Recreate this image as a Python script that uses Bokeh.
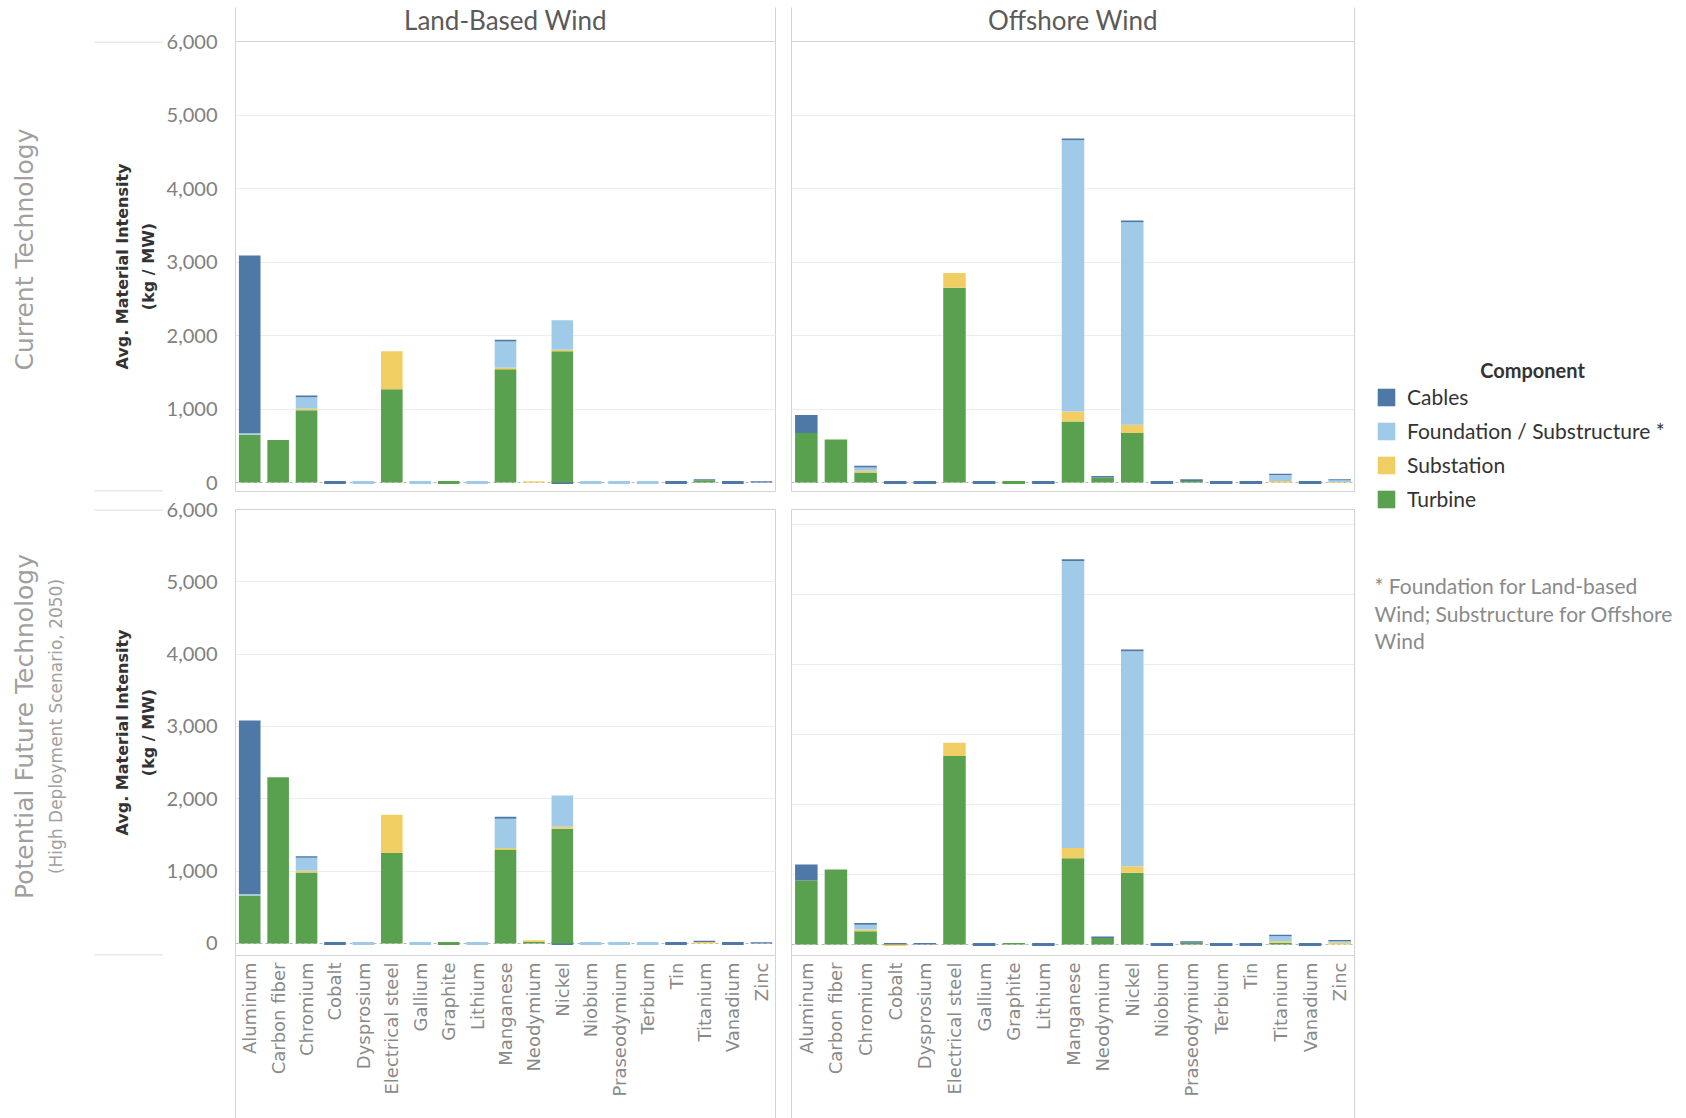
import math
from bokeh.plotting import figure
from bokeh.layouts import row, column
from bokeh.models import (Range1d, FixedTicker, LinearAxis, NumeralTickFormatter, Span,
                          ColumnDataSource, Legend, LegendItem)
from bokeh.core.properties import value
from bokeh.embed import file_html
from bokeh.resources import INLINE

# ---------------- data ----------------
categories = ["Aluminum", "Carbon fiber", "Chromium", "Cobalt", "Dysprosium", "Electrical steel",
              "Gallium", "Graphite", "Lithium", "Manganese", "Neodymium", "Nickel", "Niobium",
              "Praseodymium", "Terbium", "Tin", "Titanium", "Vanadium", "Zinc"]

components = ["Turbine", "Substation", "Foundation / Substructure *", "Cables"]  # stack order
legend_order = ["Cables", "Foundation / Substructure *", "Substation", "Turbine"]
component_colors = {"Cables": "#4e79a7", "Foundation / Substructure *": "#a0cbe8",
                    "Substation": "#f1ce63", "Turbine": "#59a14f"}

column_headers = ["Land-Based Wind", "Offshore Wind"]
row_headers = ["Current Technology", "Potential Future Technology"]
row_subheader = "(High Deployment Scenario, 2050)"
y_title = ["Avg. Material Intensity", "(kg / MW)"]
y_ticks = [0, 1000, 2000, 3000, 4000, 5000, 6000]
footnote = ["* Foundation for Land-based", "Wind; Substructure for Offshore", "Wind"]

# values in kg/MW (a value of 1 marks a near-zero entry that is drawn as a trace line)
land_current_turbine = [650, 580, 985, 0, 0, 1270, 0, 1, 0, 1540, 0, 1785, 0, 0, 0, 0, 30, 0, 0]
land_current_substation = [0, 0, 20, 0, 0, 515, 0, 0, 0, 22, 18, 22, 0, 0, 0, 0, 0, 0, 0]
land_current_foundation = [20, 0, 155, 0, 1, 0, 1, 0, 1, 355, 0, 400, 1, 1, 1, 0, 0, 0, 0]
land_current_cables = [2420, 0, 25, 1, 0, 0, 0, 0, 0, 27, 0, 1, 0, 0, 0, 1, 15, 1, 18]

land_future_turbine = [665, 2300, 982, 0, 0, 1252, 0, 1, 0, 1298, 20, 1587, 0, 0, 0, 0, 0, 0, 0]
land_future_substation = [0, 0, 22, 0, 0, 528, 0, 0, 0, 23, 25, 28, 0, 0, 0, 0, 22, 0, 0]
land_future_foundation = [18, 0, 180, 0, 1, 0, 1, 0, 1, 404, 0, 431, 1, 1, 1, 0, 0, 0, 0]
land_future_cables = [2400, 0, 23, 1, 0, 0, 0, 0, 0, 27, 0, 1, 0, 0, 0, 1, 15, 1, 18]

offshore_current_turbine = [675, 585, 136, 0, 0, 2650, 0, 1, 0, 830, 68, 675, 0, 22, 0, 0, 0, 0, 0]
offshore_current_substation = [0, 0, 23, 0, 0, 200, 0, 0, 0, 135, 0, 112, 0, 0, 0, 0, 22, 0, 8]
offshore_current_foundation = [0, 0, 45, 0, 0, 0, 0, 0, 0, 3690, 0, 2755, 0, 0, 0, 0, 80, 0, 22]
offshore_current_cables = [245, 0, 23, 1, 1, 0, 1, 0, 1, 27, 20, 23, 1, 22, 1, 1, 18, 1, 15]

offshore_future_turbine = [915, 1071, 190, 0, 0, 2692, 0, 22, 0, 1232, 92, 1024, 0, 25, 0, 0, 24, 0, 0]
offshore_future_substation = [0, 0, 23, 1, 0, 190, 0, 0, 0, 147, 0, 94, 0, 0, 0, 0, 22, 0, 25]
offshore_future_foundation = [0, 0, 71, 0, 0, 0, 0, 0, 0, 4100, 0, 3072, 0, 0, 0, 0, 72, 0, 20]
offshore_future_cables = [227, 0, 24, 22, 22, 0, 1, 0, 1, 23, 22, 23, 1, 22, 1, 1, 20, 1, 20]

# ---------------- style ----------------
BORDER = "#d3d3d3"
GRID = "#ededed"
TICK_FONT = "Lato"
WIDE_FONT = "DejaVu Sans"
BAR_W = 0.76
TRACE_MAX = 2

W_RH = 163
Y_AXIS_W = 70
TOP_H = 495
BOT_H = 623
TOP_BT, TOP_BB = 41, 4       # borders (top, bottom) of the upper row
BOT_BT, BOT_BB = 14, 163     # borders (top, bottom) of the lower row
HDR_TICK = 34
LBL_TICK = 170


def make_panel(series, width, height, y_start, y_end, b_left, b_right, b_top, b_bottom,
               show_y, header, show_x):
    n = len(categories)
    p = figure(width=width, height=height, x_range=Range1d(-0.5, n - 0.5),
               y_range=Range1d(y_start, y_end), output_backend="svg", toolbar_location=None,
               x_axis_location=None, y_axis_location="left" if show_y else None,
               min_border_left=b_left, min_border_right=b_right, min_border_top=b_top,
               min_border_bottom=b_bottom, background_fill_color="white",
               border_fill_color="white", outline_line_color=BORDER)
    p.xgrid.visible = False
    p.ygrid.ticker = FixedTicker(ticks=[t for t in y_ticks if t > 0])
    p.ygrid.grid_line_color = GRID
    p.ygrid.grid_line_width = 1

    if show_y:
        ya = p.yaxis[0]
        ya.ticker = FixedTicker(ticks=y_ticks)
        ya.formatter = NumeralTickFormatter(format="0,0")
        ya.axis_line_color = None
        ya.major_tick_line_color = None
        ya.minor_tick_line_color = None
        ya.major_label_text_font = TICK_FONT
        ya.major_label_text_font_size = "20px"
        ya.major_label_text_color = "#808080"
        ya.major_label_standoff = 12

    xs = list(range(n))
    data = {"x": xs}
    for comp, vals in zip(components, series):
        data[comp] = vals
    src = ColumnDataSource(data)

    # near-zero entries drawn as thin trace lines at the baseline
    tx, tc = [], []
    for comp, vals in zip(components, series):
        for i, v in enumerate(vals):
            if 0 < v <= TRACE_MAX:
                tx.append(i)
                tc.append(component_colors[comp])
    p.rect(x=tx, y=[0] * len(tx), width=BAR_W, height=3, height_units="screen",
           fill_color=tc, line_color=None)

    p.vbar_stack(components, x="x", width=BAR_W, source=src,
                 fill_color=[component_colors[c] for c in components], line_color=None)

    zero = Span(location=0, dimension="width", line_color="#b8b8b8", line_dash="3 3",
                line_width=1, level="underlay")
    p.add_layout(zero)

    if header is not None:
        ax = LinearAxis(ticker=FixedTicker(ticks=[], minor_ticks=[-0.5, n - 0.5]),
                        axis_label=header)
        ax.axis_line_color = None
        ax.major_tick_line_color = None
        ax.minor_tick_line_color = BORDER
        ax.minor_tick_in = 0
        ax.minor_tick_out = HDR_TICK
        ax.axis_label_text_font = TICK_FONT
        ax.axis_label_text_font_style = "normal"
        ax.axis_label_text_font_size = "26px"
        ax.axis_label_text_color = "#5a5a5a"
        ax.axis_label_standoff = 6 - HDR_TICK
        p.add_layout(ax, "above")

    if show_x:
        ax = LinearAxis(ticker=FixedTicker(ticks=xs, minor_ticks=[-0.5, n - 0.5]))
        ax.major_label_overrides = {i: c for i, c in enumerate(categories)}
        ax.major_label_orientation = math.pi / 2
        ax.axis_line_color = None
        ax.major_tick_line_color = None
        ax.minor_tick_line_color = BORDER
        ax.minor_tick_in = 0
        ax.minor_tick_out = LBL_TICK
        ax.major_label_text_font = WIDE_FONT
        ax.major_label_text_font_size = "18px"
        ax.major_label_text_color = "#8a8a8a"
        ax.major_label_standoff = 7 - LBL_TICK
        p.add_layout(ax, "below")
    return p


def blank(width, height, b_top=0, b_bottom=0):
    fh = height - b_top - b_bottom
    p = figure(width=width, height=height, x_range=Range1d(0, width), y_range=Range1d(0, fh),
               output_backend="svg", toolbar_location=None, x_axis_location=None,
               y_axis_location=None, min_border_left=0, min_border_right=0,
               min_border_top=b_top, min_border_bottom=b_bottom, outline_line_color=None,
               background_fill_color="white", border_fill_color="white")
    p.xgrid.visible = False
    p.ygrid.visible = False
    return p


# ---------------- row header figures (pixel coordinates inside the frame) ----------------
fh1 = TOP_H - TOP_BT - TOP_BB
rh1 = blank(W_RH, TOP_H, TOP_BT, TOP_BB)
rh1.segment(x0=[94, 94], y0=[fh1 - 0.5, 0.5], x1=[W_RH, W_RH], y1=[fh1 - 0.5, 0.5],
            line_color=BORDER, line_width=1)
rh1.text(x=[24], y=[fh1 - (249 - TOP_BT)], text=[row_headers[0]], angle=math.pi / 2,
         text_font=value(WIDE_FONT), text_font_size="25px", text_color="#a0a0a0",
         text_align="center", text_baseline="middle")
rh1.text(x=[122, 148], y=[fh1 / 2, fh1 / 2], text=y_title, angle=math.pi / 2,
         text_font=value(WIDE_FONT), text_font_style="bold", text_font_size="16px",
         text_color="#333333", text_align="center", text_baseline="middle")

fh2 = BOT_H - BOT_BT - BOT_BB
rh2 = blank(W_RH, BOT_H, BOT_BT, BOT_BB)
rh2.segment(x0=[94, 94], y0=[fh2 - 0.5, 0.5], x1=[W_RH, W_RH], y1=[fh2 - 0.5, 0.5],
            line_color=BORDER, line_width=1)
rh2.text(x=[24], y=[fh2 - (726 - TOP_H - BOT_BT)], text=[row_headers[1]], angle=math.pi / 2,
         text_font=value(WIDE_FONT), text_font_size="25px", text_color="#a0a0a0",
         text_align="center", text_baseline="middle")
rh2.text(x=[55], y=[fh2 - (726 - TOP_H - BOT_BT)], text=[row_subheader], angle=math.pi / 2,
         text_font=value(WIDE_FONT), text_font_size="17px", text_color="#a0a0a0",
         text_align="center", text_baseline="middle")
rh2.text(x=[122, 148], y=[fh2 / 2, fh2 / 2], text=y_title, angle=math.pi / 2,
         text_font=value(WIDE_FONT), text_font_style="bold", text_font_size="16px",
         text_color="#333333", text_align="center", text_baseline="middle")

# ---------------- panels ----------------
tl = make_panel([land_current_turbine, land_current_substation, land_current_foundation,
                 land_current_cables], 613, TOP_H, -122, 6000, Y_AXIS_W, 1, TOP_BT, TOP_BB,
                True, column_headers[0], False)
tr = make_panel([offshore_current_turbine, offshore_current_substation,
                 offshore_current_foundation, offshore_current_cables], 579, TOP_H, -122, 6000,
                15, 1, TOP_BT, TOP_BB, False, column_headers[1], False)
bl = make_panel([land_future_turbine, land_future_substation, land_future_foundation,
                 land_future_cables], 613, BOT_H, -166, 6000, Y_AXIS_W, 1, BOT_BT, BOT_BB,
                True, None, True)
br = make_panel([offshore_future_turbine, offshore_future_substation,
                 offshore_future_foundation, offshore_future_cables], 579, BOT_H, -157, 6214,
                15, 1, BOT_BT, BOT_BB, False, None, True)

# ---------------- legend figure ----------------
LEG_W, LEG_H = 331, 1118
leg = blank(LEG_W, LEG_H)
items = []
for comp in legend_order:
    r = leg.rect(x=[-1000], y=[-1000], width=1, height=1, fill_color=component_colors[comp],
                 line_color=None)
    items.append(LegendItem(label=comp, renderers=[r]))
legend = Legend(items=items, location=(20, LEG_H - 511), glyph_width=22, glyph_height=22,
                label_height=24, spacing=9, padding=0, margin=0, label_standoff=10,
                border_line_color=None, background_fill_alpha=0,
                label_text_font=TICK_FONT, label_text_font_size="21px",
                label_text_color="#333333")
leg.add_layout(legend)
leg.text(x=[177], y=[LEG_H - 369], text=["Component"], text_font=value(TICK_FONT),
         text_font_style="bold", text_font_size="20px", text_color="#333333",
         text_align="center", text_baseline="middle")
leg.text(x=[19, 19, 19], y=[LEG_H - 585, LEG_H - 613, LEG_H - 640], text=footnote,
         text_font=value(TICK_FONT), text_font_size="21px", text_color="#8a8a8a",
         text_align="left", text_baseline="middle")

layout = row(column(row(rh1, tl, tr), row(rh2, bl, br)), leg)

open("out.html", "w").write(file_html(layout, INLINE))
